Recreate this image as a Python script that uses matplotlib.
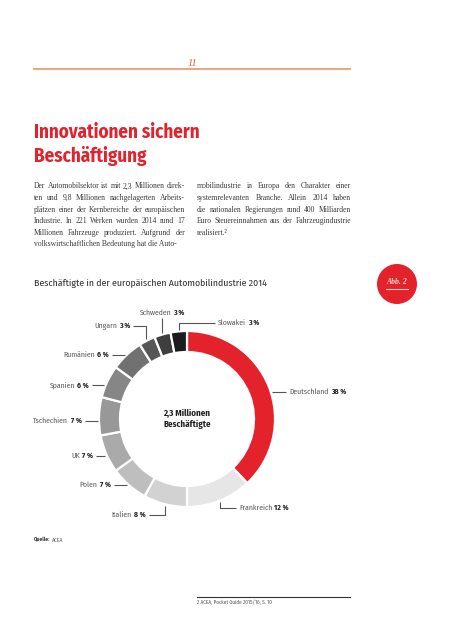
import matplotlib
matplotlib.use('Agg')
import matplotlib.pyplot as plt
import numpy as np
from matplotlib.patches import Circle
from matplotlib.lines import Line2D
from matplotlib.transforms import offset_copy

# ---------------- data ----------------
countries = ['Deutschland', 'Frankreich', 'Italien', 'Polen', 'UK', 'Tschechien',
             'Spanien', 'Rumänien', 'Ungarn', 'Schweden', 'Slowakei']
shares = [38, 12, 8, 7, 7, 7, 6, 6, 3, 3, 3]
colors = ['#e3222b', '#e6e6e6', '#d2d2d2', '#bebebe', '#aaaaaa', '#989898',
          '#868686', '#717171', '#575757', '#3e3e3e', '#1c1c1c']
center_lines = ['2,3 Millionen', 'Beschäftigte']
chart_title = 'Beschäftigte in der europäischen Automobilindustrie 2014'
page_number = '11'
headline = ['Innovationen sichern', 'Beschäftigung']
col1 = ['Der Automobilsektor ist mit 2,3 Millionen direk-',
        'ten und 9,8 Millionen nachgelagerten Arbeits-',
        'plätzen einer der Kernbereiche der europäischen',
        'Industrie. In 221 Werken wurden 2014 rund 17',
        'Millionen Fahrzeuge produziert. Aufgrund der',
        'volkswirtschaftlichen Bedeutung hat die Auto-']
col2 = ['mobilindustrie in Europa den Charakter einer',
        'systemrelevanten Branche. Allein 2014 haben',
        'die nationalen Regierungen rund 400 Milliarden',
        'Euro Steuereinnahmen aus der Fahrzeugindustrie',
        'realisiert.²']
source_label = 'Quelle:'
source_text = 'ACEA'
footnote = '2 ACEA, Pocket Guide 2015/16, S. 10'
badge = 'Abb. 2'

# ---------------- layout ----------------
W, H, DPI = 453, 640, 100
RED = '#e3222b'
SERIF = ['Liberation Serif', 'DejaVu Serif']
COND = ['Fira Sans Condensed', 'DejaVu Sans']

fig = plt.figure(figsize=(W / DPI, H / DPI), dpi=DPI)
fig.patch.set_facecolor('white')
renderer = fig.canvas.get_renderer()


def P(x, y):
    return x / W, 1 - y / H


def measure(s, **kw):
    t = fig.text(0, 0, s, **kw)
    w = t.get_window_extent(renderer).width
    t.remove()
    return w


def fit(s, target, **kw):
    kw = dict(kw)
    kw['fontsize'] = 10
    return 10 * target / measure(s, **kw)


def hline(x0, x1, y, **kw):
    fig.add_artist(Line2D([x0 / W, x1 / W], [1 - y / H, 1 - y / H], **kw))


# page number + rule
fig.text(*P(192, 63), page_number, family=SERIF, style='italic', fontsize=7.5,
         color='#c0654d', ha='center', va='center')
hline(34, 350, 69, color='#eaa67f', lw=1.4)

# headline
hs = fit(headline[0], 167, family=COND, weight='bold')
for i, line in enumerate(headline):
    fig.text(*P(34, 138 + i * 24.5), line, family=COND, weight='bold',
             fontsize=hs, color=RED, ha='left', va='baseline')

# justified body text
body_kw = dict(family=SERIF, fontsize=5.5, color='#3a3a3a', va='center', ha='left')


def column(lines, x0, x1, y0, lh, last_left):
    for i, line in enumerate(lines):
        y = y0 + i * lh
        words = line.split(' ')
        if (i == len(lines) - 1 and last_left) or len(words) == 1:
            fig.text(*P(x0, y), line, **body_kw)
            continue
        widths = [measure(w, **body_kw) for w in words]
        gap = (x1 - x0 - sum(widths)) / (len(words) - 1)
        x = x0
        for w, wd in zip(words, widths):
            fig.text(*P(x, y), w, **body_kw)
            x += wd + gap


column(col1, 34, 185, 186.5, 11.6, True)
column(col2, 197, 351, 186.5, 11.6, True)

# chart title
ts = fit(chart_title, 234, family=COND)
fig.text(*P(34, 283), chart_title, family=COND, fontsize=ts, color='#333333',
         ha='left', va='center')

# badge
fig.add_artist(Circle((397 / DPI, (H - 284) / DPI), 20 / DPI, transform=fig.dpi_scale_trans,
                      facecolor=RED, edgecolor='none'))
fig.text(*P(397, 282.5), badge, family=SERIF, style='italic', weight='bold', fontsize=5.6,
         color='#fbd6c6', ha='center', va='center')
hline(386, 408, 288.5, color='#fbd6c6', lw=0.8)

# ---------------- donut ----------------
cx, cy, R = 187, 419, 88.0      # px
ring = 21.0
half = 120
ax = fig.add_axes([(cx - half) / W, 1 - (cy + half) / H, 2 * half / W, 2 * half / H])
ax.pie(shares, colors=colors, startangle=90, counterclock=False, radius=1,
       wedgeprops=dict(width=ring / R, edgecolor='white', linewidth=1.6))
ax.set_xlim(-half / R, half / R)
ax.set_ylim(-half / R, half / R)
ax.set_aspect('auto')
ax.axis('off')

cs = fit(center_lines[0], 47, family=COND, weight='bold')
for i, line in enumerate(center_lines):
    ax.text(0, (-(i * 11.5) + 5.7) / R, line, family=COND, weight='bold', fontsize=cs,
            color='#222222', ha='center', va='center')

# label layout: kind, dy(px, screen down), dx(px), text alignment
layout = {
    'Deutschland': ('h', 6, 14, 'left'),
    'Frankreich': ('v', 6, 16, 'left'),
    'Italien': ('v', 9, -16, 'right'),
    'Polen': ('h', -1, -13, 'right'),
    'UK': ('h', 1, -9, 'right'),
    'Tschechien': ('h', 5, -13, 'right'),
    'Spanien': ('h', 4.5, -12, 'right'),
    'Rumänien': ('h', 1, -13, 'right'),
    'Ungarn': ('v', -13, -13, 'right'),
    'Schweden': ('v', -15, 0, 'center'),
    'Slowakei': ('v', -7, 36, 'left'),
}

ls = fit('Deutschland 38 %', 56, family=COND)
name_kw = dict(family=COND, fontsize=ls, color='#595959', weight='normal')
pct_kw = dict(family=COND, fontsize=ls, color='#222222', weight='bold')
line_kw = dict(color='#555555', lw=0.8, clip_on=False, solid_capstyle='butt')

cum = np.cumsum([0] + shares[:-1])
total = float(sum(shares))
for name, val, c0 in zip(countries, shares, cum):
    kind, dy, dx, align = layout[name]
    th = np.deg2rad(360 * (c0 + val / 2) / total)
    r = 1 + 1.5 / R
    ax_, ay_ = r * np.sin(th), r * np.cos(th)
    if kind == 'h':
        y = ay_ - dy / R
        x = np.sign(ax_) * np.sqrt(max(r ** 2 - y ** 2, 0))
        xe, ye = x + dx / R, y
        ax.plot([x, xe], [y, y], **line_kw)
    else:
        ym = ay_ - dy / R
        xe, ye = ax_ + dx / R, ym
        ax.plot([ax_, ax_, xe], [ay_, ym, ym], **line_kw)
    pct = f'{val} %'
    wn = measure(name, **name_kw)
    wp = measure(pct, **pct_kw)
    sp = 2.2
    tot = wn + sp + wp
    if align == 'left':
        x0, yoff = 3.0, 0.0
    elif align == 'right':
        x0, yoff = -3.0 - tot, 0.0
    else:
        x0, yoff = -tot / 2, 5.5
    tr1 = offset_copy(ax.transData, fig=fig, x=x0, y=yoff, units='dots')
    tr2 = offset_copy(ax.transData, fig=fig, x=x0 + wn + sp, y=yoff, units='dots')
    ax.text(xe, ye, name, transform=tr1, ha='left', va='center', clip_on=False, **name_kw)
    ax.text(xe, ye, pct, transform=tr2, ha='left', va='center', clip_on=False, **pct_kw)

# source
qs = fit(source_label + ' ' + source_text, 29, family=COND)
src_kw_b = dict(family=COND, fontsize=qs, color='#444444', weight='bold')
src_kw = dict(family=COND, fontsize=qs, color='#555555')
fig.text(*P(34, 540), source_label, ha='left', va='center', **src_kw_b)
wq = measure(source_label + ' ', **src_kw_b)
fig.text(*P(34 + wq, 540), source_text, ha='left', va='center', **src_kw)

# footnote
hline(197, 350, 597, color='#333333', lw=0.8)
fs = fit(footnote, 76, family=COND)
fig.text(*P(197, 602), footnote, family=COND, fontsize=fs, color='#555555',
         ha='left', va='center')

fig.savefig('out.png', dpi=DPI, facecolor='white')
